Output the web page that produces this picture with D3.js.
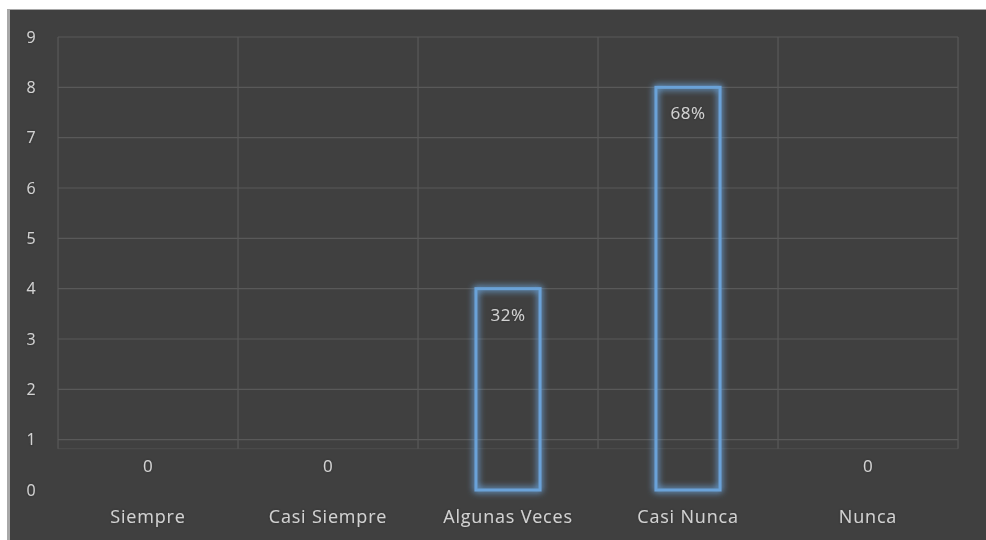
<!DOCTYPE html>
<html><head><meta charset="utf-8">
<script src="https://cdn.jsdelivr.net/npm/d3@7"></script>
<style>body{margin:0;background:#fff}</style>
</head><body>
<svg id="c" width="986" height="540"></svg>
<script>
const categories = ["Siempre", "Casi Siempre", "Algunas Veces", "Casi Nunca", "Nunca"];
const values = [0, 0, 4, 8, 0];
const labels = ["0", "0", "32%", "68%", "0"];
const yTicks = [0, 1, 2, 3, 4, 5, 6, 7, 8, 9];

const svg = d3.select("#c");
const defs = svg.append("defs");
const f = defs.append("filter").attr("id","glow").attr("x","-40%").attr("y","-15%").attr("width","180%").attr("height","130%");
f.append("feGaussianBlur").attr("in","SourceGraphic").attr("stdDeviation",3.5).attr("result","b");
f.append("feComponentTransfer").attr("in","b").attr("result","b2")
  .append("feFuncA").attr("type","linear").attr("slope",1.6);
const m = f.append("feMerge");
m.append("feMergeNode").attr("in","b2");
m.append("feMergeNode").attr("in","SourceGraphic");

const tf = defs.append("filter").attr("id","halo").attr("x","-20%").attr("y","-30%").attr("width","140%").attr("height","160%");
tf.append("feGaussianBlur").attr("in","SourceAlpha").attr("stdDeviation",1).attr("result","a");
tf.append("feFlood").attr("flood-color","#2a2a2a").attr("flood-opacity",0.7).attr("result","fl");
tf.append("feComposite").attr("in","fl").attr("in2","a").attr("operator","in").attr("result","sh");
const tm = tf.append("feMerge");
tm.append("feMergeNode").attr("in","sh");
tm.append("feMergeNode").attr("in","SourceGraphic");

svg.append("rect").attr("x",7).attr("y",9).attr("width",979).attr("height",531).attr("fill","#a8a8a8");
svg.append("rect").attr("x",10).attr("y",10).attr("width",976).attr("height",530).attr("fill","#404040");

const x = d3.scaleBand().domain(categories).range([58, 958]).paddingInner(0.644).paddingOuter(0.322);
const y = d3.scaleLinear().domain([0, 9]).range([490, 37]);
const step = x.step();
const gridBottom = y(1) + 9;

const g = svg.append("g");
g.selectAll("line.h").data(yTicks.filter(d => d > 0)).join("line")
  .attr("x1", 58).attr("x2", 958)
  .attr("y1", d => y(d)).attr("y2", d => y(d))
  .attr("stroke", "#595959").attr("stroke-width", 1.2);
g.append("line").attr("x1",58).attr("x2",958).attr("y1",gridBottom).attr("y2",gridBottom)
  .attr("stroke","#4c4c4c").attr("stroke-width",1);
const vx = categories.map(c => x(c) - (step - x.bandwidth())/2).concat([958]);
g.selectAll("line.v").data(vx).join("line")
  .attr("x1", d => d).attr("x2", d => d)
  .attr("y1", y(9)).attr("y2", gridBottom)
  .attr("stroke", "#595959").attr("stroke-width", 1.2);

const font = "Open Sans, sans-serif";
const txtCol = "#d2d2d2";

svg.append("g").selectAll("text").data(yTicks).join("text")
  .attr("x", 31).attr("y", d => y(d)).attr("dy", "0.35em")
  .attr("text-anchor", "middle")
  .attr("font-family", font).attr("font-size", 16)
  .attr("fill", txtCol).attr("filter","url(#halo)").text(d => d);

const data = categories.map((c, i) => ({c, v: values[i], l: labels[i]}));
svg.append("g").selectAll("rect").data(data.filter(d => d.v > 0)).join("rect")
  .attr("x", d => x(d.c)).attr("width", x.bandwidth())
  .attr("y", d => y(d.v)).attr("height", d => y(0) - y(d.v))
  .attr("fill", "none").attr("stroke", "#6aa2d8").attr("stroke-width", 3)
  .attr("filter", "url(#glow)");

svg.append("g").selectAll("text").data(data).join("text")
  .attr("x", d => x(d.c) + x.bandwidth()/2)
  .attr("y", d => d.v > 0 ? y(d.v) + 26 : y(0) - 24)
  .attr("dy", "0.35em").attr("text-anchor", "middle")
  .attr("font-family", font).attr("font-size", 17).attr("letter-spacing", 0.5)
  .attr("fill", txtCol).attr("filter","url(#halo)").text(d => d.l);

svg.append("g").selectAll("text").data(categories).join("text")
  .attr("x", d => x(d) + x.bandwidth()/2).attr("y", 517).attr("dy","0.35em")
  .attr("text-anchor", "middle")
  .attr("font-family", font).attr("font-size", 18).attr("letter-spacing", 0.8)
  .attr("fill", txtCol).attr("filter","url(#halo)").text(d => d);
</script>
</body></html>
